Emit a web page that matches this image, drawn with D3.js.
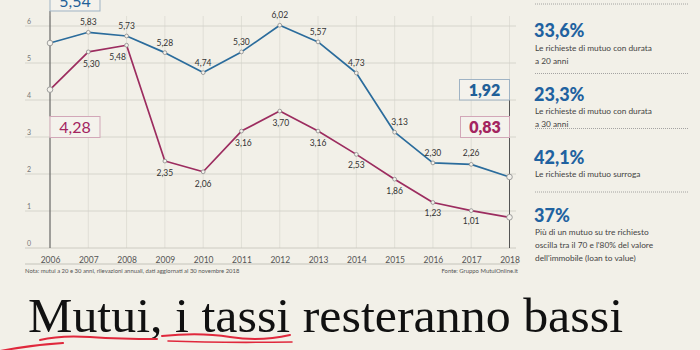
<!DOCTYPE html>
<html><head><meta charset="utf-8">
<script src="https://cdn.jsdelivr.net/npm/d3@7"></script>
<style>
html,body{margin:0;padding:0;background:#f2f0e8;}
svg{display:block;}
</style></head><body>
<script>
const years = [2006,2007,2008,2009,2010,2011,2012,2013,2014,2015,2016,2017,2018];
const rate20 = [5.54,5.83,5.73,5.28,4.74,5.30,6.02,5.57,4.73,3.13,2.30,2.26,1.92];
const rate30 = [4.28,5.30,5.48,2.35,2.06,3.16,3.70,3.16,2.53,1.86,1.23,1.01,0.83];
const yTicks = [0,1,2,3,4,5,6];
const stats = [
  {v:"33,6%", lines:["Le richieste di mutuo con durata","a 20 anni"]},
  {v:"23,3%", lines:["Le richieste di mutuo con durata","a 30 anni"]},
  {v:"42,1%", lines:["Le richieste di mutuo surroga"]},
  {v:"37%", lines:["Più di un mutuo su tre richiesto","oscilla tra il 70 e l'80% del valore","dell'immobile (loan to value)"]}
];
const note = "Nota: mutui a 20 e 30 anni, rilevazioni annuali, dati aggiornati al 30 novembre 2018";
const source = "Fonte: Gruppo MutuiOnline.it";
const title = "Mutui, i tassi resteranno bassi";

const W=700,H=350;
const BLUE="#2b6c9c", RED="#9c2c5f", BLUE_T="#1f5f98", RED_T="#a3245f";
const svg=d3.select("body").append("svg").attr("width",W).attr("height",H);
svg.append("rect").attr("width",W).attr("height",H).attr("fill","#f2f0e8");

const x=d3.scalePoint().domain(years).range([50,509.5]);
const y=d3.scaleLinear().domain([0,6]).range([248,26]);
const sans="Lato, 'Open Sans', sans-serif";

// vertical grid
svg.append("g").selectAll("line").data(years).join("line")
  .attr("x1",d=>x(d)).attr("x2",d=>x(d)).attr("y1",16).attr("y2",y(0))
  .attr("stroke","#dcdad2").attr("stroke-width",0.8);
// horizontal grid
svg.append("g").selectAll("line").data(yTicks).join("line")
  .attr("x1",25).attr("x2",516).attr("y1",d=>y(d)).attr("y2",d=>y(d))
  .attr("stroke",d=>d===0?"#c8c6be":"#d3d1c9").attr("stroke-width",0.9);
svg.append("g").selectAll("text").data(yTicks).join("text")
  .attr("x",27).attr("y",d=>y(d)-2.5).text(d=>d)
  .attr("font-family",sans).attr("font-size",7).attr("fill","#777");

// x axis labels using d3 axis
const xa=svg.append("g").attr("transform","translate(0,248)")
  .call(d3.axisBottom(x).tickSize(0).tickPadding(9));
xa.select(".domain").remove();
xa.selectAll("text").attr("font-family",sans).attr("font-size",8.5).attr("fill","#555");
svg.append("line").attr("x1",25).attr("x2",518).attr("y1",264).attr("y2",264)
  .attr("stroke","#b9b7af").attr("stroke-width",0.8);
svg.append("text").attr("x",25).attr("y",272.5).text(note)
  .attr("font-family",sans).attr("font-size",5.9).attr("fill","#555");
svg.append("text").attr("x",518).attr("y",272.5).attr("text-anchor","end").text(source)
  .attr("font-family",sans).attr("font-size",5.9).attr("fill","#555");

// axis connectors
const ax=svg.append("g").attr("stroke","#555").attr("stroke-width",1);
ax.append("line").attr("x1",x(2006)).attr("x2",x(2006)).attr("y1",11).attr("y2",116.5);
ax.append("line").attr("x1",x(2006)).attr("x2",x(2006)).attr("y1",137.5).attr("y2",y(0));
ax.append("line").attr("x1",x(2018)).attr("x2",x(2018)).attr("y1",100).attr("y2",116.5);
ax.append("line").attr("x1",x(2018)).attr("x2",x(2018)).attr("y1",137.5).attr("y2",y(0));

// lines
const line=d3.line().x((d,i)=>x(years[i])).y(d=>y(d));
svg.append("path").datum(rate30).attr("d",line).attr("fill","none").attr("stroke",RED).attr("stroke-width",1.7).attr("stroke-linejoin","round");
svg.append("path").datum(rate20).attr("d",line).attr("fill","none").attr("stroke",BLUE).attr("stroke-width",1.7).attr("stroke-linejoin","round");

function pts(data){
  svg.append("g").selectAll("circle").data(data).join("circle")
    .attr("cx",(d,i)=>x(years[i])).attr("cy",d=>y(d))
    .attr("r",(d,i)=>(i===0||i===data.length-1)?2.8:1.9)
    .attr("fill","#f4f2ec").attr("stroke","#8a8a8a").attr("stroke-width",0.8);
}
pts(rate30); pts(rate20);

// value labels
const fmt=v=>v.toFixed(2).replace(".",",");
const blueOff=[null,[0,-7],[0,-7],[0,-7],[0,-7],[0,-7],[0,-7],[0,-7],[0,-7],[5,-7],[0,-7],[0,-8],null];
const redOff=[null,[3,15],[-9,15],[0,15],[0,15],[2,14.5],[1,15],[0,14.5],[0,14],[0,15],[0,13.5],[0,13.5],null];
function labels(data,offs){
  svg.append("g").selectAll("text").data(data.map((v,i)=>({v,i})).filter(d=>offs[d.i])).join("text")
    .attr("x",d=>x(years[d.i])+offs[d.i][0]).attr("y",d=>y(d.v)+offs[d.i][1])
    .attr("text-anchor","middle").text(d=>fmt(d.v))
    .attr("font-family",sans).attr("font-size",8.5).attr("fill","#333");
}
labels(rate20,blueOff); labels(rate30,redOff);

// boxes
function box(x0,x1,y0,y1,val,col,border,bold){
  svg.append("rect").attr("x",x0).attr("y",y0).attr("width",x1-x0).attr("height",y1-y0)
    .attr("fill","#f4f2ec").attr("stroke",border).attr("stroke-width",1);
  svg.append("text").attr("x",(x0+x1)/2).attr("y",y1-4.5).attr("text-anchor","middle")
    .text(fmt(val)).attr("font-family",sans).attr("font-size",16)
    .attr("font-weight",bold?800:400).attr("fill",col);
}
box(x(2006),x(2006)+50,-12,11,rate20[0],BLUE_T,"#9fb3c4",false);
box(x(2006),x(2006)+50,116.5,137.5,rate30[0],RED_T,"#d2a7b8",false);
box(x(2018)-50,x(2018),79.5,100,rate20[12],BLUE_T,"#9fb3c4",true);
box(x(2018)-49,x(2018),116.5,137.5,rate30[12],RED_T,"#d2a7b8",true);

// right panel
const sepY=[4,73.5,128.5,192];
svg.append("g").selectAll("line").data(sepY).join("line")
  .attr("x1",535).attr("x2",688).attr("y1",d=>d).attr("y2",d=>d)
  .attr("stroke","#8f8f8f").attr("stroke-width",0.8).attr("stroke-dasharray","1,1");
const statY=[37,100.5,163.5,221.5];
stats.forEach((s,k)=>{
  svg.append("text").attr("x",534).attr("y",statY[k]).text(s.v)
    .attr("font-family",sans).attr("font-size",18).attr("font-weight",900).attr("fill","#1f62a0");
  s.lines.forEach((l,j)=>{
    svg.append("text").attr("x",535).attr("y",statY[k]+13.5+j*13).text(l)
      .attr("font-family",sans).attr("font-size",8.3).attr("fill","#444");
  });
});

// headline
svg.append("text").attr("x",28).attr("y",332).text(title)
  .attr("font-family","'Liberation Serif', 'DejaVu Serif', serif").attr("font-size",48)
  .attr("fill","#111").attr("textLength",595).attr("lengthAdjust","spacingAndGlyphs");
// red pen underlines
const pen=svg.append("g").attr("fill","none").attr("stroke","#e0283c").attr("stroke-linecap","round");
pen.append("path").attr("d","M40,340 Q60,335 90,337 T157,339").attr("stroke-width",2);
pen.append("path").attr("d","M0,351 Q30,345 63,343").attr("stroke-width",2.2);
pen.append("path").attr("d","M162,336 Q200,332 230,337 T290,335").attr("stroke-width",2);
pen.append("path").attr("d","M168,341 Q220,343 292,342").attr("stroke-width",1.6);
</script>
</body></html>
